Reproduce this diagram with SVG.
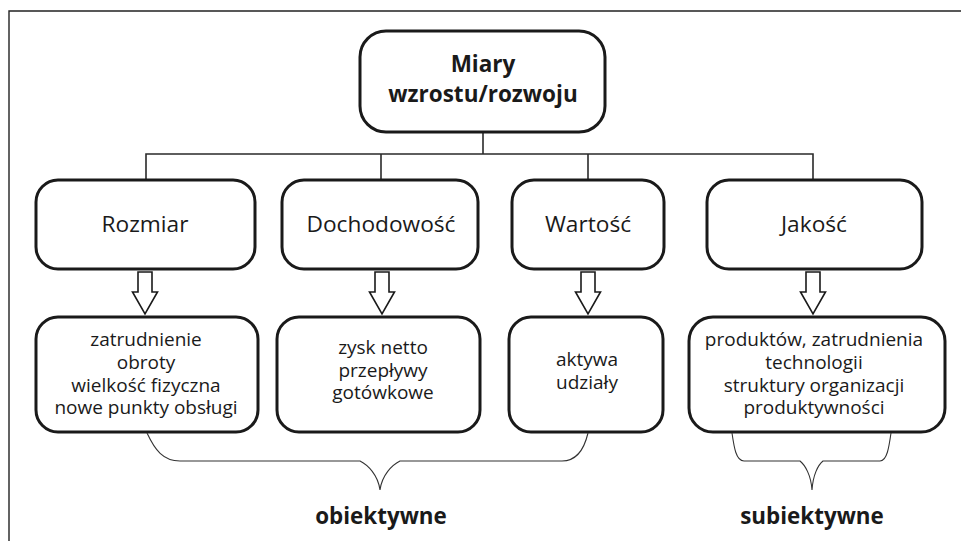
<svg xmlns="http://www.w3.org/2000/svg" width="961" height="541" viewBox="0 0 961 541">
  <style>
    .box { fill: #ffffff; stroke: #1a1a1a; stroke-width: 3; }
    .line { fill: none; stroke: #2a2a2a; stroke-width: 1.6; }
    .brace { fill: none; stroke: #333333; stroke-width: 1.1; }
    .arrow { fill: #ffffff; stroke: #1a1a1a; stroke-width: 1.6; stroke-linejoin: miter; }
    text { font-family: "Open Sans", "Noto Sans", "Liberation Sans", sans-serif; fill: #1a1a1a; text-anchor: middle; }
    .title { font-size: 22.5px; font-weight: bold; }
    .head { font-size: 22.7px; }
    .item { font-size: 19px; }
    .label { font-size: 22.4px; font-weight: bold; }
  </style>
  <defs>
    <path id="block-arrow" d="M -7 0 H 7 V 20 H 12.5 L 0 42 L -12.5 20 H -7 Z"/>
  </defs>

  <rect width="961" height="541" fill="#ffffff"/>
  <!-- frame -->
  <path d="M 9 541 V 11 H 961" fill="none" stroke="#222222" stroke-width="1.4"/>

  <g id="connectors">
    <path class="line" d="M 483 132 V 154"/>
    <path class="line" d="M 146 180 V 154 H 813 V 180"/>
    <path class="line" d="M 381 154 V 180"/>
    <path class="line" d="M 588 154 V 180"/>
    <use href="#block-arrow" class="arrow" x="145" y="272"/>
    <use href="#block-arrow" class="arrow" x="382" y="272"/>
    <use href="#block-arrow" class="arrow" x="588" y="272"/>
    <use href="#block-arrow" class="arrow" x="813" y="272"/>
  </g>

  <g id="root">
    <rect class="box" x="360" y="31" width="245" height="101" rx="26"/>
    <text class="title" x="483" y="72">Miary</text>
    <text class="title" x="483" y="102">wzrostu/rozwoju</text>
  </g>

  <g id="rozmiar">
    <rect class="box" x="36" y="180" width="219" height="89" rx="22"/>
    <text class="head" x="145" y="232">Rozmiar</text>
  </g>
  <g id="dochodowosc">
    <rect class="box" x="282" y="180" width="196" height="89" rx="22"/>
    <text class="head" x="381" y="232">Dochodowość</text>
  </g>
  <g id="wartosc">
    <rect class="box" x="512" y="180" width="152" height="89" rx="22"/>
    <text class="head" x="588" y="232">Wartość</text>
  </g>
  <g id="jakosc">
    <rect class="box" x="707" y="180" width="215" height="89" rx="22"/>
    <text class="head" x="814" y="232">Jakość</text>
  </g>

  <g id="rozmiar-measures">
    <rect class="box" x="36" y="317" width="222" height="115" rx="22"/>
    <text class="item" x="146" y="346">zatrudnienie</text>
    <text class="item" x="146" y="369">obroty</text>
    <text class="item" x="146" y="392">wielkość fizyczna</text>
    <text class="item" x="146" y="414">nowe punkty obsługi</text>
  </g>
  <g id="dochodowosc-measures">
    <rect class="box" x="277" y="317" width="203" height="115" rx="22"/>
    <text class="item" x="383" y="354">zysk netto</text>
    <text class="item" x="383" y="377">przepływy</text>
    <text class="item" x="383" y="399">gotówkowe</text>
  </g>
  <g id="wartosc-measures">
    <rect class="box" x="509" y="317" width="154" height="115" rx="22"/>
    <text class="item" x="587" y="366">aktywa</text>
    <text class="item" x="587" y="389">udziały</text>
  </g>
  <g id="jakosc-measures">
    <rect class="box" x="689" y="317" width="256" height="115" rx="24"/>
    <text class="item" x="814" y="346">produktów, zatrudnienia</text>
    <text class="item" x="814" y="369">technologii</text>
    <text class="item" x="814" y="392">struktury organizacji</text>
    <text class="item" x="814" y="414">produktywności</text>
  </g>

  <g id="braces">
    <path class="brace" d="M 147 433 C 155 450 163 461 180 461 H 360 C 368 465 378 475 380 490 C 382 475 392 465 400 461 H 562 C 576 461 584 450 588 433"/>
    <path class="brace" d="M 732 433 C 734 447 736 461 744 461 H 800 C 805 465 811 475 812 490 C 813 475 818 465 823 461 H 880 C 887 461 889 447 891 433"/>
  </g>

  <g id="obiektywne">
    <text class="label" x="381" y="524">obiektywne</text>
  </g>
  <g id="subiektywne">
    <text class="label" x="812" y="524">subiektywne</text>
  </g>
</svg>
